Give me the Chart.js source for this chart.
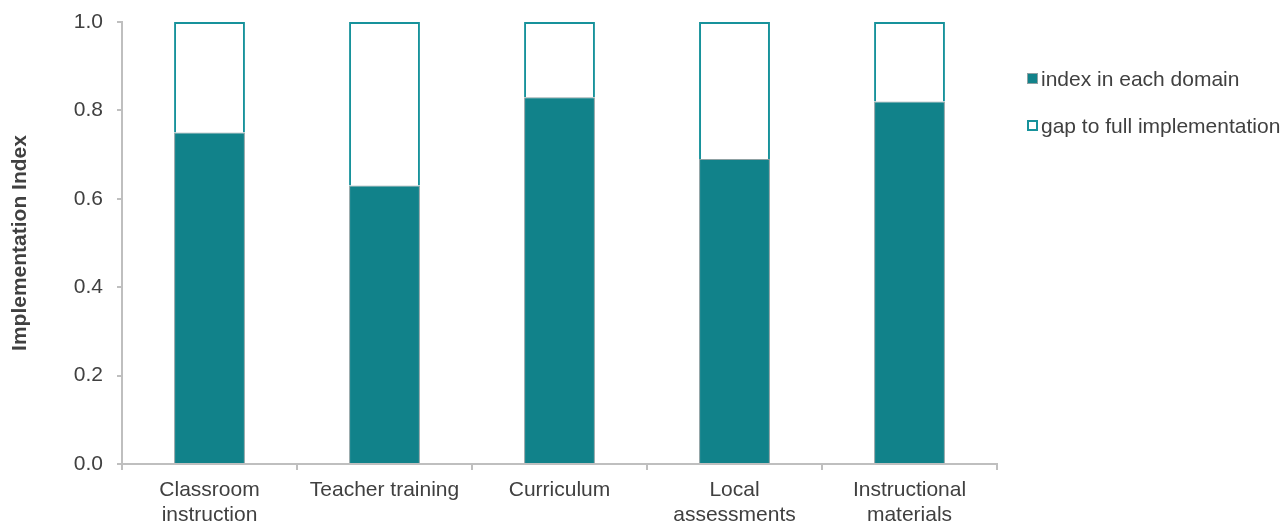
<!DOCTYPE html>
<html>
<head>
<meta charset="utf-8">
<script src="https://cdn.jsdelivr.net/npm/chart.js@4"></script>
<style>
  html, body { margin: 0; padding: 0; background: #fff; }
  #wrap { width: 1288px; height: 522px; position: relative; }
  #legend {
    position: absolute; left: 1027px; top: 55px;
    font-family: Arial, 'Liberation Sans', sans-serif;
    font-size: 21px; color: #404040;
  }
  #legend .item { height: 47px; display: flex; align-items: center; white-space: nowrap; }
  #legend .swatch { flex: 0 0 auto; width: 11px; height: 11px; box-sizing: border-box; margin-right: 3px; }
</style>
</head>
<body>
<div id="wrap">
  <canvas id="chart"></canvas>
  <div id="legend"></div>
</div>
<script>
// domains and index values
const domains = [
  ['Classroom', 'instruction'],
  'Teacher training',
  'Curriculum',
  ['Local', 'assessments'],
  ['Instructional', 'materials']
];
const indexValues = [0.75, 0.63, 0.83, 0.69, 0.82];
const gapValues = [0.25, 0.37, 0.17, 0.31, 0.18];
const yTicks = [0, 0.2, 0.4, 0.6, 0.8, 1.0];

const teal = '#11828a';
const tealLine = '#17929b';
const axisGrey = '#bfbfbf';
const textGrey = '#404040';
const font = "Arial, 'Liberation Sans', sans-serif";

Chart.defaults.font.family = font;
Chart.defaults.color = textGrey;

const ctx = document.getElementById('chart').getContext('2d');
const chart = new Chart(ctx, {
  type: 'bar',
  data: {
    labels: domains,
    datasets: [{
      label: 'index in each domain',
      data: indexValues,
      backgroundColor: teal,
      borderColor: '#8fa1a3',
      borderWidth: 1,
      barPercentage: 0.405,
      categoryPercentage: 1
    }, {
      label: 'gap to full implementation',
      data: gapValues,
      backgroundColor: '#ffffff',
      borderColor: tealLine,
      borderWidth: 2,
      barPercentage: 0.405,
      categoryPercentage: 1
    }]
  },
  options: {
    responsive: true,
    maintainAspectRatio: false,
    animation: false,
    layout: {
      padding: { top: 22, left: 0, right: 291, bottom: 0 }
    },
    plugins: {
      tooltip: { enabled: false },
      legend: { display: false }
    },
    scales: {
      x: {
        stacked: true,
        border: { color: axisGrey, width: 2 },
        grid: { display: true, drawOnChartArea: false, drawTicks: true, tickLength: 6, color: axisGrey, lineWidth: 2 },
        ticks: { color: textGrey, font: { size: 21, lineHeight: 1.19 }, padding: 8, maxRotation: 0, autoSkip: false },
        afterFit: s => { s.height = 58; }
      },
      y: {
        stacked: true,
        min: 0,
        max: 1,
        afterBuildTicks: s => { s.ticks = yTicks.map(v => ({ value: v })); },
        border: { color: axisGrey, width: 2 },
        grid: { display: true, drawOnChartArea: false, drawTicks: true, tickLength: 5, color: axisGrey, lineWidth: 2 },
        ticks: {
          color: textGrey,
          font: { size: 21 },
          padding: 14,
          callback: v => Number(v).toFixed(1)
        },
        title: {
          display: true,
          text: 'Implementation Index',
          color: textGrey,
          font: { size: 21, weight: 'bold' },
          padding: { top: 8, bottom: 0 }
        },
        afterFit: s => {
          s.width = 122;
          s.paddingTop = 0;
          s.paddingBottom = 0;
        }
      }
    }
  }
});

// legend built from the datasets
const legend = document.getElementById('legend');
chart.data.datasets.forEach(ds => {
  const item = document.createElement('div');
  item.className = 'item';
  const sw = document.createElement('span');
  sw.className = 'swatch';
  sw.style.background = ds.backgroundColor;
  sw.style.border = (ds.borderWidth > 1 ? 2 : 1) + 'px solid ' + ds.borderColor;
  item.appendChild(sw);
  item.appendChild(document.createTextNode(ds.label));
  legend.appendChild(item);
});
</script>
</body>
</html>
